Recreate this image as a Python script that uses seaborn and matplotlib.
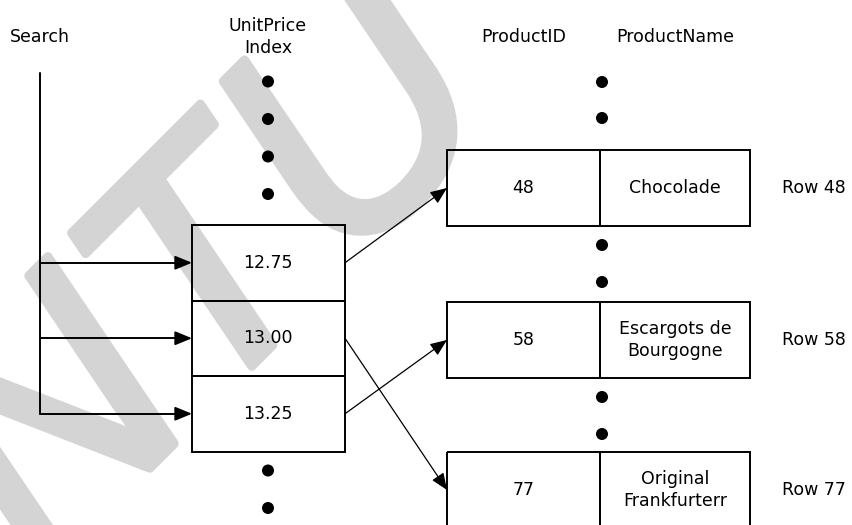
import matplotlib
matplotlib.use('Agg')
from matplotlib import pyplot as plt
from matplotlib.patches import Rectangle
import matplotlib.patheffects as pe
import seaborn as sns

# index entries and the product they point at
indexPrices = ['12.75', '13.00', '13.25']
indexTargets = [48, 77, 58]

# product rows
productIDs = [48, 58, 77]
productNames = ['Chocolade', 'Escargots de\nBourgogne', 'Original\nFrankfurterr']
rowLabels = ['Row 48', 'Row 58', 'Row 77']

sns.set_theme(style='white')
plt.rcParams['font.family'] = ['DejaVu Sans']
plt.rcParams['text.color'] = 'black'

fig = plt.figure(figsize=(8.53, 5.25), dpi=100)
ax = fig.add_axes([0, 0, 1, 1])

FS = 12.5
LW = 1.4
GREY = '#d4d4d4'

# layout (pixel units, y down)
searchX = 40
idxLeft, idxRight, idxCol = 192, 345, 268
idxTop, cellH = 225, 75.5
prodLeft, prodMid, prodRight, prodCol = 447, 600, 750, 602
prodTops = [150, 302, 452]
rowH = 76
dotStep = 37.5


def arrow(x0, y0, x1, y1, lw):
    ax.annotate('', xy=(x1, y1), xytext=(x0, y0),
                arrowprops=dict(arrowstyle='-|>,head_length=0.85,head_width=0.35',
                                mutation_scale=12, lw=lw, color='black',
                                shrinkA=0, shrinkB=0))


# watermark
ax.text(40, 578, 'NTU', rotation=45, rotation_mode='anchor', ha='left', va='baseline',
        fontsize=232, family='Liberation Sans', style='italic', color=GREY, zorder=0,
        path_effects=[pe.withStroke(linewidth=6.5, foreground=GREY)])

# headers
ax.text(10, 37, 'Search', ha='left', va='center', fontsize=FS)
ax.text(idxCol, 37, 'UnitPrice\nIndex', ha='center', va='center', fontsize=FS, linespacing=1.35)
ax.text((prodLeft + prodMid) / 2, 37, 'ProductID', ha='center', va='center', fontsize=FS)
ax.text((prodMid + prodRight) / 2, 37, 'ProductName', ha='center', va='center', fontsize=FS)

# index cells
cellMid = []
for i, price in enumerate(indexPrices):
    top = idxTop + i * cellH
    ax.add_patch(Rectangle((idxLeft, top), idxRight - idxLeft, cellH, fill=False, lw=LW, ec='black', zorder=3))
    mid = top + cellH / 2
    cellMid.append(mid)
    ax.text(idxCol, mid, price, ha='center', va='center', fontsize=FS, zorder=4)

# search line and arrows into the index
ax.plot([searchX, searchX], [73, cellMid[-1]], color='black', lw=LW, zorder=3)
for mid in cellMid:
    ax.plot([searchX, idxLeft - 8], [mid, mid], color='black', lw=LW, zorder=3)
    arrow(idxLeft - 14, mid, idxLeft, mid, LW)

# product rows
rowMid = {}
for pid, name, lab, top in zip(productIDs, productNames, rowLabels, prodTops):
    ax.add_patch(Rectangle((prodLeft, top), prodMid - prodLeft, rowH, fill=False, lw=LW, ec='black', zorder=3))
    ax.add_patch(Rectangle((prodMid, top), prodRight - prodMid, rowH, fill=False, lw=LW, ec='black', zorder=3))
    mid = top + rowH / 2
    rowMid[pid] = mid
    ax.text((prodLeft + prodMid) / 2, mid, str(pid), ha='center', va='center', fontsize=FS, zorder=4)
    ax.text((prodMid + prodRight) / 2, mid, name, ha='center', va='center', fontsize=FS,
            linespacing=1.35, zorder=4)
    ax.text(782, mid, lab, ha='left', va='center', fontsize=FS, zorder=4)

# index -> row pointers
for mid, target in zip(cellMid, indexTargets):
    arrow(idxRight, mid, prodLeft, rowMid[target], 0.9)

# ellipsis dots
idxDotsY = [idxTop - 31 - dotStep * k for k in range(4)]
idxDotsY += [idxTop + 3 * cellH + 19 + dotStep * k for k in range(2)]
prodDotsY = [prodTops[0] - 32 - 36 * k for k in range(2)]
for top in prodTops[:-1]:
    prodDotsY += [top + rowH + 19 + 37 * k for k in range(2)]

sns.scatterplot(x=[idxCol] * len(idxDotsY), y=idxDotsY, color='black', s=75,
                edgecolor='none', ax=ax, legend=False, zorder=4)
sns.scatterplot(x=[prodCol] * len(prodDotsY), y=prodDotsY, color='black', s=75,
                edgecolor='none', ax=ax, legend=False, zorder=4)

ax.set_xlim(0, 853)
ax.set_ylim(525, 0)
ax.axis('off')

fig.savefig('out.png', dpi=100, facecolor='white')
